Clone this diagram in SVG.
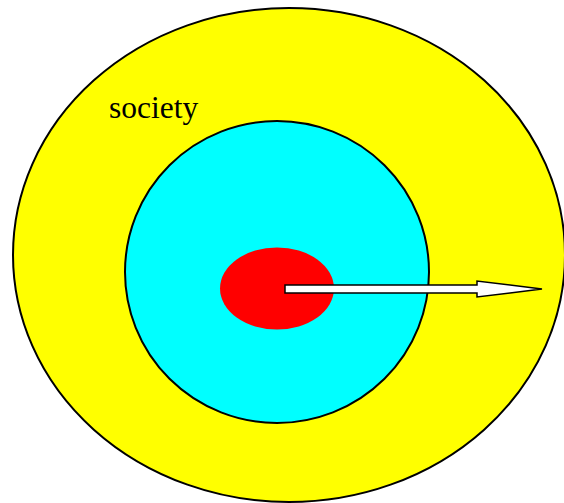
<svg xmlns="http://www.w3.org/2000/svg" width="564" height="503" viewBox="0 0 564 503">
<style>
.o{stroke:#000;stroke-width:2}
.t{font-family:"Liberation Serif",serif;font-size:31.5px;fill:#000}
</style>
<rect width="564" height="503" fill="#fff"/>
<g id="society">
<ellipse class="o" cx="289" cy="255" rx="276" ry="247" fill="#ffff00"/>
<text class="t" x="109" y="118">society</text>
</g>
<g id="middle">
<ellipse class="o" cx="277" cy="272" rx="152" ry="151" fill="#00ffff"/>
</g>
<g id="core">
<ellipse cx="277" cy="288.5" rx="57" ry="41" fill="#ff0000"/>
</g>
<g id="connectors">
<polygon points="285,285 477,285 477,281 542,289 477,297 477,293 285,293" fill="#fff" stroke="#000" stroke-width="1.5"/>
</g>
</svg>
